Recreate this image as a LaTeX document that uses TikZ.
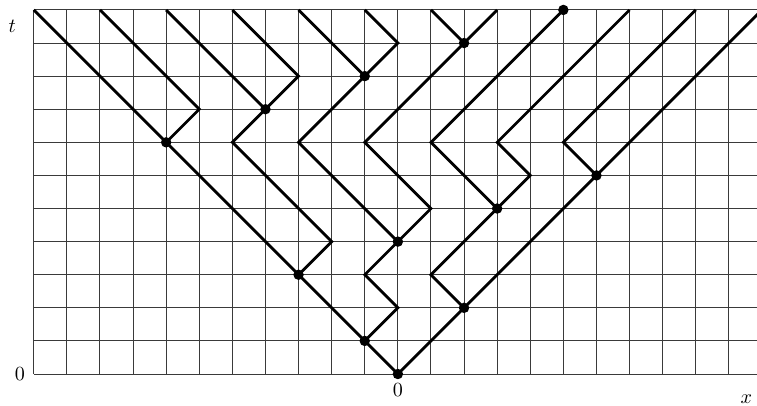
\documentclass[tikz,border=0pt]{standalone}
\usetikzlibrary{positioning}
\definecolor{gridc}{HTML}{3A3A3A}
\tikzset{
  lat/.style={gridc, line width=0.5pt},
  walk/.style={black, line width=1.4pt},
  dot/.style={circle, fill=black, inner sep=0pt, minimum size=5.2pt},
}

\begin{document}
\begin{tikzpicture}[x=0.58cm, y=0.58cm]
  \useasboundingbox (-12.02,-0.94) rectangle (10.85,11.3);
  \begin{scope}
    \clip (-11.3,-0.3) rectangle (10.85,11.3);
    \foreach \t in {0,...,11} {\draw[lat] (-11,\t) -- (11,\t);}
    \foreach \i in {-11,...,11} {\draw[lat] (\i,0) -- (\i,11);}
    \draw[walk] (-11,11) -- (0,0) -- (11,11);
    \draw[walk] (-9,11) -- (-6,8) -- (-7,7);
    \draw[walk] (-7,11) -- (-4,8);
    \draw[walk] (-5,11) -- (-3,9) -- (-4,8) -- (-5,7) -- (-2,4) -- (-3,3);
    \draw[walk] (-3,11) -- (-1,9);
    \draw[walk] (-1,11) -- (0,10) -- (-1,9) -- (-3,7) -- (0,4) -- (-1,3) -- (0,2) -- (-1,1);
    \draw[walk] (1,11) -- (2,10);
    \draw[walk] (3,11) -- (2,10) -- (-1,7) -- (1,5) -- (0,4);
    \draw[walk] (5,11) -- (1,7) -- (3,5) -- (1,3) -- (2,2);
    \draw[walk] (7,11) -- (3,7) -- (4,6) -- (3,5);
    \draw[walk] (9,11) -- (5,7) -- (6,6);
  \end{scope}
  \foreach \x/\t [count=\k] in {0/0,-1/1,2/2,-3/3,0/4,3/5,6/6,-7/7,-4/8,-1/9,2/10,5/11}
    {\node[dot] (m\k) at (\x,\t) {};}
  \node (tlab) at (-11.65,10.5) {$t$};
  \node (xlab) at (10.53,-0.76) {$x$};
  \node[anchor=east] (tzero) at (-11.05,0) {$0$};
  \node (xzero) at (0,-0.48) {$0$};
\end{tikzpicture}
\end{document}
